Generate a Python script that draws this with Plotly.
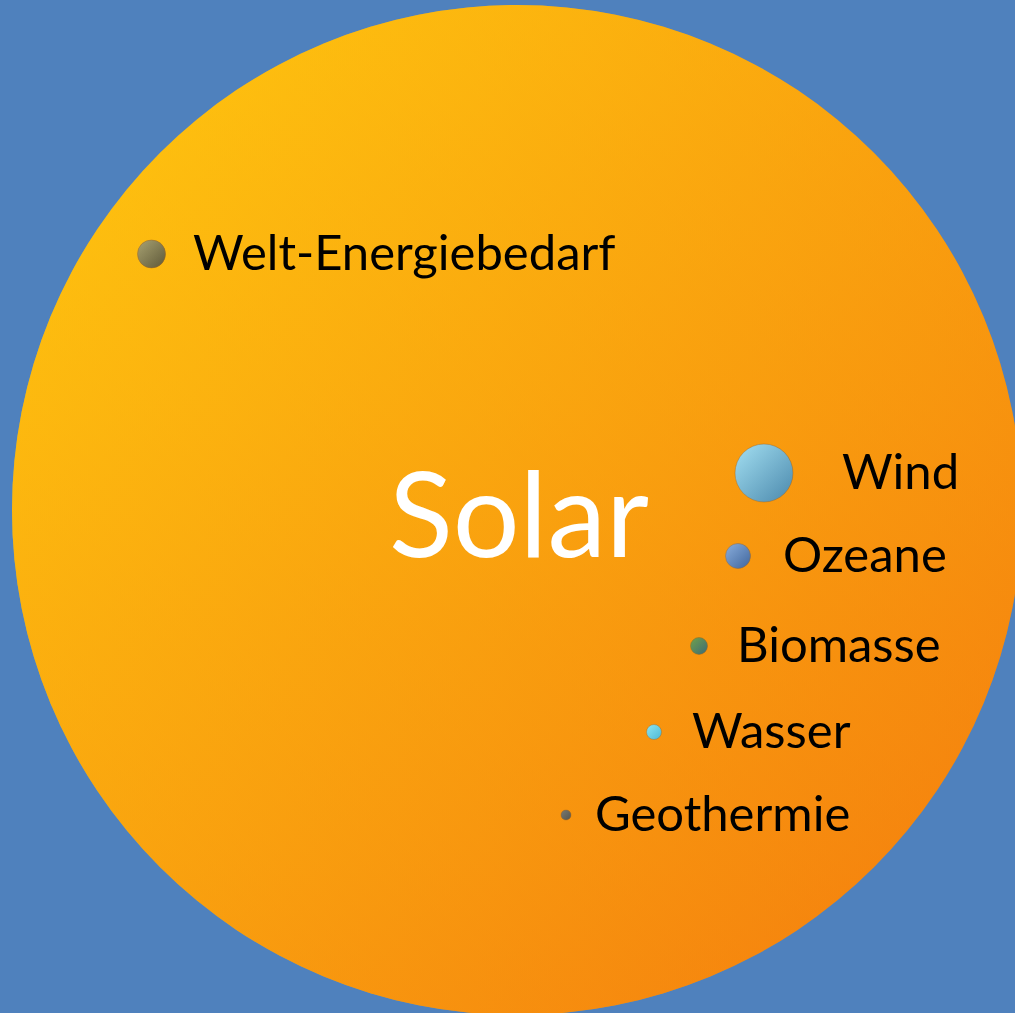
import plotly.graph_objects as go

# ---- data ----
names = ["Solar", "Welt-Energiebedarf", "Wind", "Ozeane", "Biomasse", "Wasser", "Geothermie"]
bubble_size = [1010, 28, 58, 25, 17, 15, 10]          # bubble diameter (relative size)
pos_x = [517, 151.5, 764, 738, 699, 654, 566]         # bubble centre, x
pos_y = [510, 254, 473, 556, 646, 732, 815]           # bubble centre, y (top = 0)

# ---- styles ----
light = ["#FFC90F", "#A8A272", "#A4E0F2", "#8AAEDC", "#72A24A", "#8EE6F2", "#7A7A70"]
dark = ["#F47B0E", "#5E5838", "#4A88AC", "#3F659C", "#3C6A76", "#4CB8D4", "#55554E"]
edge = ["rgba(0,0,0,0)"] + ["rgba(170,100,20,0.55)"] * 6
label_gap = [0, 27, 49, 32, 29, 30, 24]
BG = "#4F81BD"
FONT = "Lato"


def rgba(h, a):
    h = h.lstrip("#")
    return "rgba(%d,%d,%d,%.2f)" % (int(h[0:2], 16), int(h[2:4], 16), int(h[4:6], 16), a)


fig = go.Figure()
for i in range(len(names)):
    # base layer: horizontal gradient (light left -> dark right)
    fig.add_trace(go.Scatter(
        x=[pos_x[i]], y=[pos_y[i]], mode="markers", hoverinfo="skip", showlegend=False,
        name=names[i],
        marker=dict(size=bubble_size[i], sizemode="diameter", sizeref=1, color=light[i],
                    gradient=dict(type="horizontal", color=dark[i]),
                    line=dict(width=0)),
    ))
    # overlay: vertical gradient at half alpha -> combined diagonal gradient
    fig.add_trace(go.Scatter(
        x=[pos_x[i]], y=[pos_y[i]], mode="markers", hoverinfo="skip", showlegend=False,
        name=names[i],
        marker=dict(size=bubble_size[i], sizemode="diameter", sizeref=1,
                    color=rgba(light[i], 0.5),
                    gradient=dict(type="vertical", color=rgba(dark[i], 0.5)),
                    line=dict(width=0 if i == 0 else 0.8, color=edge[i])),
    ))

# labels for the small bubbles
for i in range(1, len(names)):
    fig.add_annotation(
        x=pos_x[i] + bubble_size[i] / 2 + label_gap[i], y=pos_y[i],
        xref="x", yref="y", text=names[i], showarrow=False,
        xanchor="left", yanchor="middle", borderpad=0, borderwidth=0, yshift=3,
        font=dict(family=FONT, size=49, color="black"),
    )

# big label for the sun
fig.add_annotation(
    x=389, y=511, xref="x", yref="y", text=names[0], showarrow=False,
    xanchor="left", yanchor="middle", borderpad=0, borderwidth=0,
    font=dict(family=FONT, size=118, color="white"),
)

fig.update_xaxes(range=[0, 1015], visible=False, fixedrange=True)
fig.update_yaxes(range=[1013, 0], visible=False, fixedrange=True)
fig.update_layout(
    width=1015, height=1013, margin=dict(l=0, r=0, t=0, b=0, pad=0),
    paper_bgcolor=BG, plot_bgcolor=BG, showlegend=False,
)

fig.write_html(
    "out.html",
    config={"displayModeBar": False, "staticPlot": True},
    post_script="document.body.style.margin='0';document.body.style.overflow='hidden';"
                "document.documentElement.style.background='" + BG + "';",
)
